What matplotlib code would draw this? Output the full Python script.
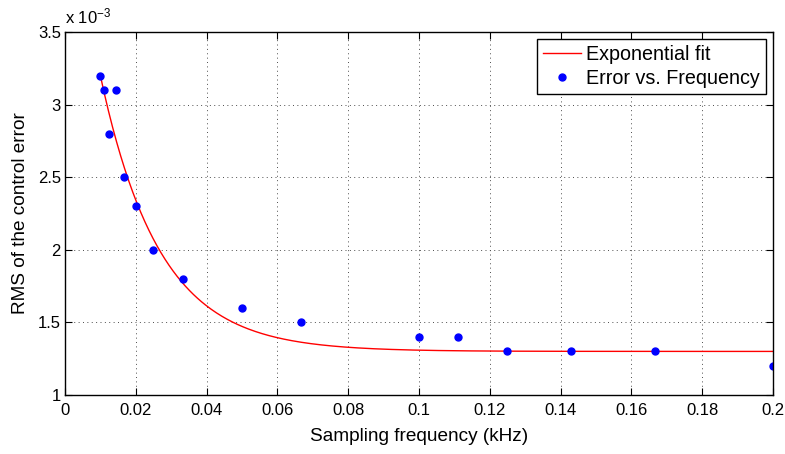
import numpy as np
import matplotlib.pyplot as plt

plt.rcParams['font.family'] = ['Liberation Sans', 'DejaVu Sans']
plt.rcParams['mathtext.default'] = 'regular'

# measured data (sampling frequency in kHz, RMS error)
freq = [1/100, 1/90, 1/80, 1/70, 1/60, 1/50, 1/40, 1/30, 1/20, 1/15,
        1/10, 1/9, 1/8, 1/7, 1/6, 1/5]
rms = [3.2e-3, 3.1e-3, 2.8e-3, 3.1e-3, 2.5e-3, 2.3e-3, 2.0e-3, 1.8e-3,
       1.6e-3, 1.5e-3, 1.4e-3, 1.4e-3, 1.3e-3, 1.3e-3, 1.3e-3, 1.2e-3]

# exponential fit  y = a*exp(-b*x) + c
fit_a = 3.46e-3
fit_b = 60.0
fit_c = 1.3e-3
fit_range = (0.01, 0.2)

scale = 1e-3

fig = plt.figure(figsize=(7.85, 4.54), dpi=100)
ax = fig.add_axes([0.0828, 0.130, 0.9019, 0.7995])

xf = np.linspace(fit_range[0], fit_range[1], 500)
yf = fit_a * np.exp(-fit_b * xf) + fit_c
ax.plot(xf, yf / scale, color='red', lw=1.0, label='Exponential fit')
ax.plot(freq, np.array(rms) / scale, 'o', color='blue', ms=5,
        label='Error vs. Frequency')

ax.set_xlim(0, 0.2)
ax.set_ylim(1, 3.5)
ax.set_xticks(np.arange(0, 0.201, 0.02))
ax.set_xticklabels(['0', '0.02', '0.04', '0.06', '0.08', '0.1', '0.12',
                    '0.14', '0.16', '0.18', '0.2'])
ax.set_yticks(np.arange(1, 3.51, 0.5))
ax.set_yticklabels(['1', '1.5', '2', '2.5', '3', '3.5'])
ax.tick_params(direction='in', top=True, right=True, length=5,
               labelsize=12, width=0.8)
ax.tick_params(axis='x', pad=6)
ax.tick_params(axis='y', pad=3)
ax.grid(True, linestyle=(0, (1, 3.5)), color='0.3', lw=0.7)
for s in ax.spines.values():
    s.set_linewidth(1.0)

ax.text(0.0, 1.015, r'x 10$^{-3}$', transform=ax.transAxes, fontsize=12,
        ha='left', va='bottom')

ax.set_xlabel('Sampling frequency (kHz)', fontsize=13.7, labelpad=7)
ax.set_ylabel('RMS of the control error', fontsize=13.7, labelpad=6)

leg = ax.legend(loc='upper right', fontsize=14.2, fancybox=False,
                framealpha=1, edgecolor='black', borderaxespad=0.35,
                handlelength=1.9, handletextpad=0.3, borderpad=0.3,
                labelspacing=0.28)
leg.get_frame().set_linewidth(1.0)

fig.savefig('out.png', dpi=100)
